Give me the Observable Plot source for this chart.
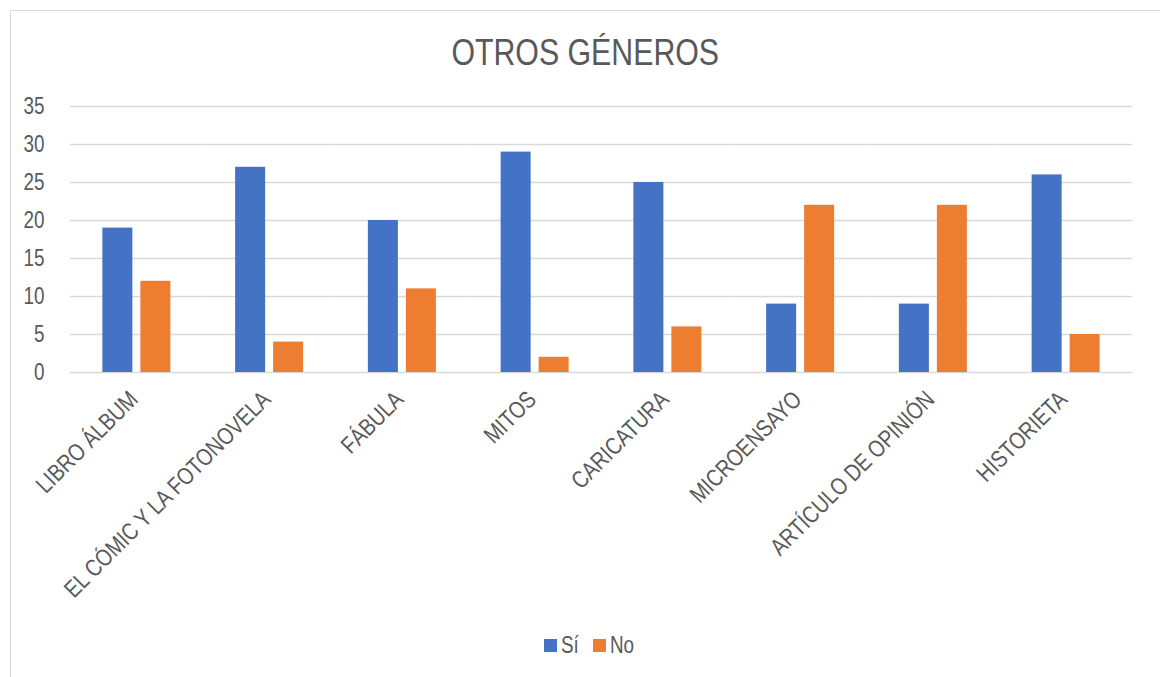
<!DOCTYPE html>
<html>
<head>
<meta charset="utf-8">
<script src="https://cdn.jsdelivr.net/npm/d3@7"></script>
<script src="https://cdn.jsdelivr.net/npm/@observablehq/plot@0.6"></script>
<style>
  html, body { margin: 0; padding: 0; background: #fff; overflow: hidden; }
  body { width: 1160px; height: 677px; position: relative; font-family: "Liberation Sans", Arial, sans-serif; color: #595959; }
  #frame { position: absolute; left: 10px; top: 10px; width: 1170px; height: 690px; border: 1.5px solid #d9d9d9; box-sizing: border-box; }
  #title { position: absolute; left: 0; width: 1170px; top: 35px; text-align: center; font-size: 36.5px; line-height: 36px; }
  #title span { display: inline-block; transform: scaleX(0.83); transform-origin: center; }
  #chart { position: absolute; left: 0; top: 0; }
  #legend { position: absolute; top: 0; left: 0; }
  .sw { position: absolute; width: 13px; height: 13px; top: 639px; }
  .lt { position: absolute; top: 634px; font-size: 23px; line-height: 23px; transform: scaleX(0.82); transform-origin: left center; white-space: nowrap; }
</style>
</head>
<body>
<div id="frame"></div>
<div id="title"><span>OTROS GÉNEROS</span></div>
<div id="chart"></div>
<div id="legend"></div>
<script>
const categories = ["LIBRO ÁLBUM", "EL CÓMIC Y LA FOTONOVELA", "FÁBULA", "MITOS", "CARICATURA", "MICROENSAYO", "ARTÍCULO DE OPINIÓN", "HISTORIETA"];
const series = ["Sí", "No"];
const siValues = [19, 27, 20, 29, 25, 9, 9, 26];
const noValues = [12, 4, 11, 2, 6, 22, 22, 5];
const yTicks = [0, 5, 10, 15, 20, 25, 30, 35];
const colors = ["#4472C4", "#ED7D31"];

const data = [];
categories.forEach((c, i) => {
  data.push({cat: c, series: "Sí", value: siValues[i]});
  data.push({cat: c, series: "No", value: noValues[i]});
});

const chart = Plot.plot({
  width: 1160,
  height: 620,
  marginTop: 106,
  marginBottom: 248,
  marginLeft: 70,
  marginRight: 28,
  style: {fontFamily: '"Liberation Sans", Arial, sans-serif', fontSize: "23px", color: "#595959", background: "transparent"},
  fx: {domain: categories, padding: 0, round: false, label: null},
  x: {domain: series, paddingInner: 0.2105, paddingOuter: 0.852, round: false, axis: null},
  y: {domain: [0, 35], label: null},
  color: {domain: series, range: colors},
  marks: [
    Plot.ruleY(yTicks, {y: d => d, stroke: "#d9d9d9", strokeWidth: 1.3}),
    Plot.barY(data, {fx: "cat", x: "series", y: "value", fill: "series"}),
    Plot.axisY({ticks: yTicks, tickSize: 0, tickPadding: 26, label: null, fontSize: 23}),
    Plot.axisFx({anchor: "bottom", tickRotate: -45, tickSize: 0, tickPadding: 10, dx: -3, dy: 13, label: null, fontSize: 24})
  ]
});
document.getElementById("chart").appendChild(chart);

// emulate a narrow typeface: condense the axis labels along their own direction
chart.querySelectorAll("text").forEach(t => {
  const tr = t.getAttribute("transform") || "";
  t.setAttribute("transform", (tr + " scale(0.82,1)").trim());
});

const legend = document.getElementById("legend");
const swX = [544, 593];
const txX = [561, 610];
series.forEach((s, i) => {
  const sw = document.createElement("span");
  sw.className = "sw";
  sw.style.left = swX[i] + "px";
  sw.style.background = colors[i];
  const t = document.createElement("span");
  t.className = "lt";
  t.style.left = txX[i] + "px";
  t.textContent = s;
  legend.appendChild(sw);
  legend.appendChild(t);
});
</script>
</body>
</html>
